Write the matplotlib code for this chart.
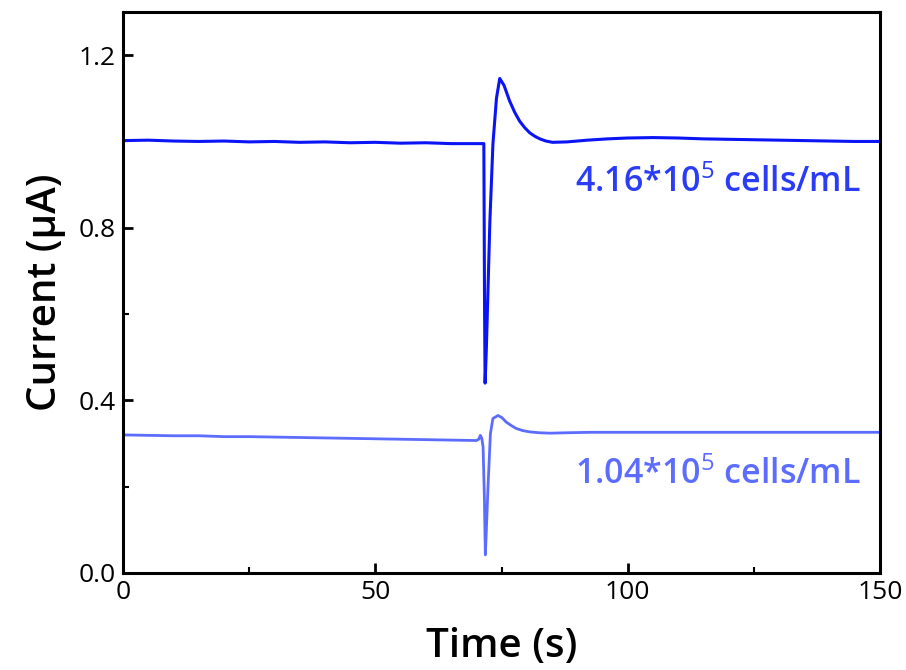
import matplotlib.pyplot as plt
from matplotlib.ticker import MultipleLocator

plt.rcParams['font.family'] = ['Open Sans', 'DejaVu Sans']
plt.rcParams['mathtext.fontset'] = 'custom'
plt.rcParams['mathtext.rm'] = 'Open Sans'
plt.rcParams['mathtext.it'] = 'Open Sans'
plt.rcParams['mathtext.bf'] = 'Open Sans:bold'

# Upper trace (4.16*10^5 cells/mL)
t_high = [0, 5, 10, 15, 20, 25, 30, 35, 40, 45, 50, 55, 60, 65, 70, 71.5,
          71.65, 71.75, 72.0, 72.3, 72.7, 73.3, 74.0, 74.65, 75.5, 76.6, 77.6,
          78.6, 79.6, 80.6, 81.6, 82.6, 83.8, 85.1, 88, 92, 96, 100, 105, 110,
          115, 120, 125, 130, 135, 140, 145, 150]
i_high = [1.002, 1.003, 1.001, 1.000, 1.001, 0.999, 1.000, 0.998, 0.999, 0.997,
          0.998, 0.996, 0.997, 0.995, 0.995, 0.995,
          0.60, 0.44, 0.52, 0.647, 0.816, 0.994, 1.10, 1.146, 1.130, 1.094, 1.068,
          1.047, 1.032, 1.020, 1.012, 1.006, 1.001, 0.998, 0.999, 1.003, 1.006,
          1.008, 1.009, 1.008, 1.006, 1.005, 1.004, 1.003, 1.002, 1.001, 1.000,
          1.000]

# Lower trace (1.04*10^5 cells/mL)
t_low = [0, 5, 10, 15, 20, 25, 30, 35, 40, 45, 50, 55, 60, 65, 70, 70.5, 70.8,
         71.1, 71.35, 71.6, 71.8, 72.0, 72.3, 72.8, 73.3, 74.3, 75.1, 75.9, 76.9,
         77.9, 79.2, 80.6, 82.5, 84.6, 88, 92.5, 100, 110, 120, 130, 140, 150]
i_low = [0.320, 0.319, 0.318, 0.318, 0.316, 0.316, 0.315, 0.314, 0.313, 0.312,
         0.311, 0.310, 0.309, 0.308, 0.307, 0.310, 0.319,
         0.312, 0.292, 0.18, 0.042, 0.10, 0.192, 0.323, 0.358, 0.365, 0.360,
         0.350, 0.342, 0.335, 0.330, 0.327, 0.325, 0.324, 0.325, 0.326, 0.326,
         0.326, 0.326, 0.326, 0.326, 0.326]

label_high = '4.16*10$^{5}$ cells/mL'
label_low = '1.04*10$^{5}$ cells/mL'
color_high = '#0a14f5'
color_low = '#5b6cff'

fig = plt.figure(figsize=(9.06, 6.70), dpi=100)
ax = fig.add_axes([123 / 906, 97 / 670, 757 / 906, 561 / 670])

ax.plot(t_high, i_high, color=color_high, lw=2.2)
ax.plot(t_low, i_low, color=color_low, lw=2.0)

ax.text(146.3, 0.904, label_high, color='#2a3cf5', fontsize=24.5, fontweight='semibold',
        ha='right', va='center')
ax.text(146.3, 0.229, label_low, color=color_low, fontsize=24.5, fontweight='semibold',
        ha='right', va='center')

ax.set_xlim(0, 150)
ax.set_ylim(0, 1.3)
ax.xaxis.set_minor_locator(MultipleLocator(25))
ax.yaxis.set_minor_locator(MultipleLocator(0.2))
ax.set_xticks([0, 50, 100, 150])
ax.set_xticklabels(['0', '50', '100', '150'])
ax.set_yticks([0, 0.4, 0.8, 1.2])
ax.set_yticklabels(['0.0', '0.4', '0.8', '1.2'])

for s in ax.spines.values():
    s.set_linewidth(2.2)
ax.tick_params(which='major', direction='in', length=7, width=2, labelsize=19, pad=5)
ax.tick_params(which='minor', direction='in', length=4, width=1.5)

ax.set_xlabel('Time (s)', fontsize=29, fontweight='semibold', labelpad=16)
ax.set_ylabel('Current (\u03bcA)', fontsize=29, fontweight='semibold', labelpad=9)

fig.savefig('out.png', dpi=100)
